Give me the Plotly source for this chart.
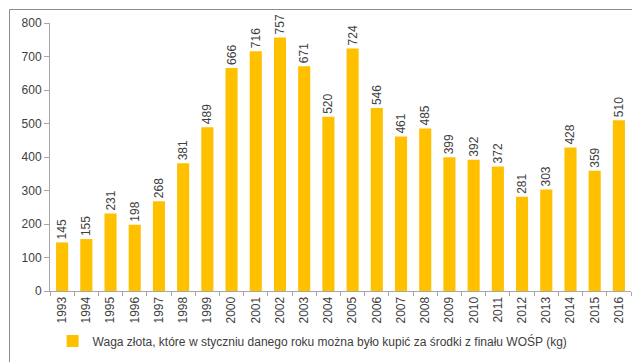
import plotly.graph_objects as go

years = list(range(1993, 2017))
values = [145, 155, 231, 198, 268, 381, 489, 666, 716, 757, 671, 520,
          724, 546, 461, 485, 399, 392, 372, 281, 303, 428, 359, 510]
series_name = "Waga złota, które w styczniu danego roku można było kupić za środki z finału WOŚP (kg)"

W, H = 640, 362
L, R, T, B = 42, 17, 15, 79
pw, ph = W - L - R, H - T - B

fig = go.Figure(go.Bar(
    x=years, y=values, name=series_name,
    marker=dict(color="#FFC000", line=dict(width=0)),
    text=[str(v) for v in values], textposition="outside",
    textangle=-90, cliponaxis=False, constraintext="none",
    textfont=dict(size=12, color="#404040"),
    showlegend=True,
))

fig.update_layout(
    width=W, height=H,
    margin=dict(l=L, r=R, t=T, b=B, autoexpand=False),
    paper_bgcolor="white", plot_bgcolor="white",
    font=dict(family="Liberation Sans, Arial, sans-serif", size=12, color="#404040"),
    bargap=0.5,
    showlegend=True,
    legend=dict(orientation="h", x=0.452, xanchor="center",
                y=-(333 - (H - B)) / ph, yanchor="middle",
                bgcolor="rgba(0,0,0,0)",
                font=dict(size=12, color="#404040")),
    xaxis=dict(range=[years[0] - 0.5, years[-1] + 0.5],
               tickmode="array", tickvals=years, ticktext=[str(y) for y in years],
               tickangle=-90, showline=True, linecolor="#A6A6A6",
               ticks="", showgrid=False, zeroline=False, automargin=False,
               tickfont=dict(size=12),
               minor=dict(tickmode="array",
                          tickvals=[y - 0.5 for y in years] + [years[-1] + 0.5],
                          ticks="outside", ticklen=4, tickcolor="#A6A6A6",
                          showgrid=False)),
    yaxis=dict(range=[0, 800], dtick=100, showline=True, linecolor="#A6A6A6",
               ticks="outside", ticklen=5, tickcolor="#A6A6A6", automargin=False,
               showgrid=False, zeroline=False, tickfont=dict(size=12)),
    shapes=[dict(type="rect", xref="paper", yref="paper", layer="above",
                 x0=(1.5 - L) / pw, x1=(638.5 - L) / pw,
                 y0=-(358.5 - (H - B)) / ph, y1=1 + (T - 1.5) / ph,
                 line=dict(color="#8C8C8C", width=1))],
)

fig.write_html("out.html", config={"displayModeBar": False})
